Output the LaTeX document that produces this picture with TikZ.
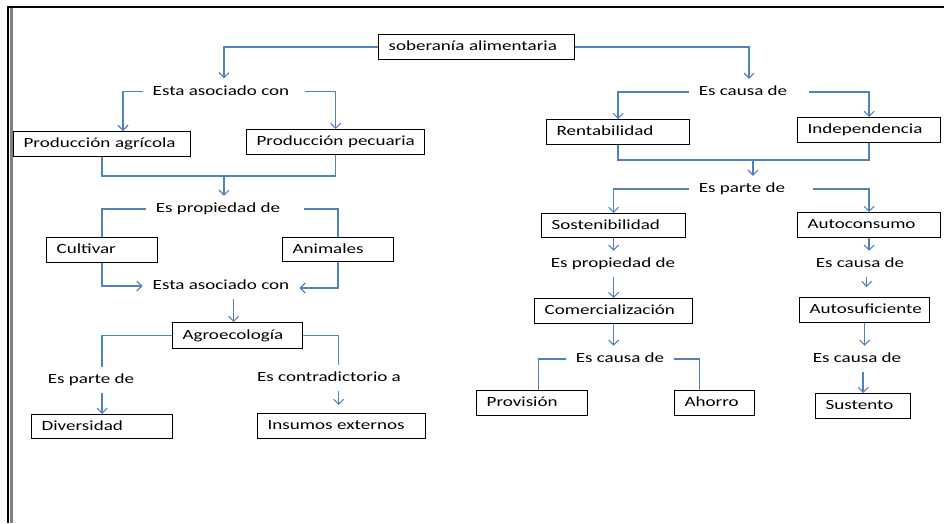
\documentclass[tikz,border=0pt]{standalone}
\usepackage{fontspec}
\setmainfont[FakeStretch=1.36]{Carlito}
\usetikzlibrary{arrows.meta,calc}
\definecolor{lnblue}{RGB}{79,129,189}
\begin{document}
\begin{tikzpicture}[x=1pt,y=-1pt,
  font=\fontsize{14}{16}\selectfont,
  box/.style={draw=black,line width=1.3pt,inner xsep=10pt,inner ysep=0pt,anchor=north west,align=left,text height=10pt,text depth=3pt},
  lab/.style={inner xsep=10pt,inner ysep=0pt,minimum height=26pt,text height=10pt,text depth=3pt},
  conn/.style={draw=lnblue,line width=1.4pt},
  arr/.style={conn,-{Straight Barb[length=5pt,width=10pt,line width=1.1pt]}}]
\useasboundingbox (0,0) rectangle (944,523);
% frame
\draw[line width=2pt] (7,7) -- (944,7);
\draw[line width=2pt] (8,6) -- (8,523);
\draw[gray,line width=3pt] (11.5,8) -- (11.5,523);
% boxes
\node[box,text width=176pt,minimum height=25pt] (sob) at (378,34) {\mbox{soberanía alimentaria}};
\node[box,text width=157pt,minimum height=25pt] (pagr) at (13,131) {\mbox{Producción agrícola}};
\node[box,text width=158pt,minimum height=25pt] (ppec) at (246,129) {\mbox{Producción pecuaria}};
\node[box,text width=91pt,minimum height=25pt] (cult) at (46,237) {\mbox{Cultivar}};
\node[box,text width=91pt,minimum height=24pt] (anim) at (282,237) {\mbox{Animales}};
\node[box,text width=110pt,minimum height=26pt] (agro) at (172,322) {\mbox{Agroecología}};
\node[box,text width=121pt,minimum height=24pt] (div) at (31,414) {\mbox{Diversidad}};
\node[box,text width=148pt,minimum height=25pt] (ins) at (257,413) {\mbox{Insumos externos}};
\node[box,text width=123pt,minimum height=25pt] (rent) at (546,119) {\mbox{Rentabilidad}};
\node[box,text width=123pt,minimum height=25pt] (indep) at (797,117) {\mbox{Independencia}};
\node[box,text width=124pt,minimum height=24pt] (sost) at (541,213) {\mbox{Sostenibilidad}};
\node[box,text width=123pt,minimum height=25pt] (autoc) at (797,212) {\mbox{Autoconsumo}};
\node[box,text width=138pt,minimum height=25pt] (comer) at (534,298) {\mbox{Comercialización}};
\node[box,text width=110pt,minimum height=25pt] (autos) at (799,297) {\mbox{Autosuficiente}};
\node[box,text width=91pt,minimum height=25pt] (prov) at (476,390) {\mbox{Provisión}};
\node[box,text width=60pt,minimum height=25pt] (ahorro) at (674,390) {\mbox{Ahorro}};
\node[box,text width=75pt,minimum height=25pt] (sust) at (815,393) {\mbox{Sustento}};
% labels
\node[lab] (L1) at (221,91.5) {Esta asociado con};
\node[lab] (L2) at (743,92) {Es causa de};
\node[lab] (L3) at (218,209) {Es propiedad de};
\node[lab] (L4) at (221,286) {Esta asociado con};
\node[lab] (L5) at (91,380) {Es parte de};
\node[lab] (L6) at (329,378) {Es contradictorio a};
\node[lab] (L7) at (742,189) {Es parte de};
\node[lab] (L8) at (613,264) {Es propiedad de};
\node[lab] (L9) at (860,264) {Es causa de};
\node[lab] (L10) at (620,359) {Es causa de};
\node[lab] (L11) at (857,359) {Es causa de};
% left connectors
\draw[arr] (sob.west) -| ([xshift=3pt]L1.north);
\draw[arr] (sob.east) -| ([xshift=6pt]L2.north);
\draw[arr] (L1.west) -| ([xshift=110pt]pagr.north west);
\draw[arr] ([xshift=6pt]L1.east) -| (ppec.north);
\coordinate (j1) at (224,176);
\draw[conn] (pagr.south) |- (j1) -| (ppec.south);
\draw[arr] (j1) -- (j1 |- L3.north);
\draw[conn] (L3.west) -| (cult.north);
\draw[conn] ([xshift=14pt]L3.east) -| (anim.north);
\draw[arr] (cult.south) |- (L4.west);
\draw[arr] (anim.south) |- ([yshift=-2pt]L4.east);
\coordinate (a1) at ([xshift=-4pt]agro.north);
\draw[arr] (a1 |- L4.south) -- (a1);
\draw[conn] (agro.west) -| (div.north |- L5.north);
\draw[arr] (div.north |- L5.south) -- (div.north);
\coordinate (a2) at ([xshift=-3pt]ins.north);
\draw[conn] (agro.east) -| (a2 |- L6.north);
\draw[arr] (a2 |- L6.south) -- ([yshift=8pt]a2);
% right connectors
\draw[arr] (L2.west) -| (rent.north);
\draw[arr] ([xshift=12pt]L2.east) -| (indep.north);
\coordinate (j2) at (753,160);
\draw[conn] (rent.south) |- (j2) -| (indep.south);
\draw[arr] (j2) -- (j2 |- L7.north);
\draw[arr] (L7.west) -| (sost.north);
\draw[arr] ([xshift=18pt]L7.east) -| (autoc.north);
\draw[arr] (sost.south) -- (sost.south |- L8.north);
\draw[arr] (comer.north |- L8.south) -- (comer.north);
\draw[arr] (comer.south) -- (comer.south |- L10.north);
\coordinate (p1) at ([xshift=6.5pt]prov.north);
\draw[conn] (L10.west) -| (p1);
\coordinate (p2) at ([xshift=-15pt]ahorro.north);
\draw[conn] (L10.east) -| (p2);
\draw[arr] (autoc.south) -- (autoc.south |- L9.north);
\coordinate (a3) at ([xshift=2pt]autos.north);
\draw[arr] (a3 |- L9.south) -- ([yshift=10pt]a3);
\draw[arr] (autos.south) -- (autos.south |- L11.north);
\draw[arr] (sust.north |- L11.south) -- (sust.north);
\end{tikzpicture}
\end{document}
